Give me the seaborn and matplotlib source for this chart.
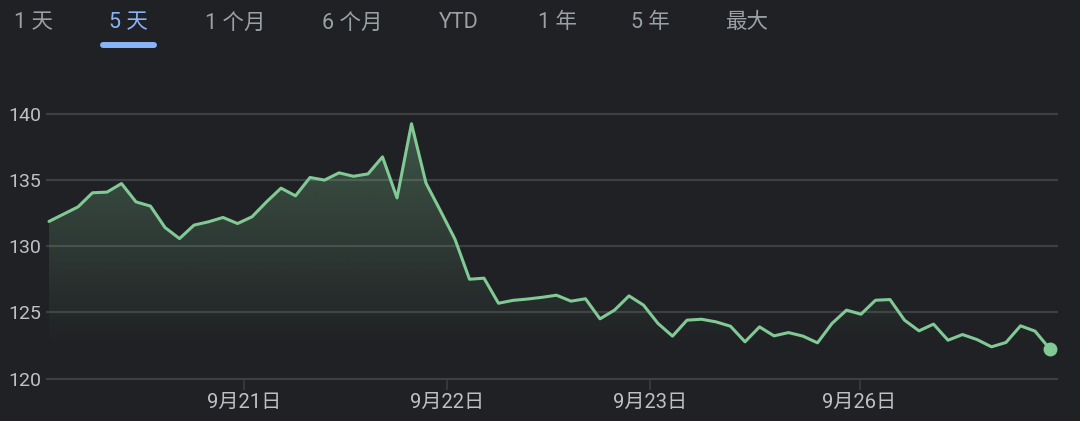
import numpy as np
import pandas as pd
import matplotlib
matplotlib.use("Agg")
import matplotlib.pyplot as plt
import seaborn as sns
from matplotlib.lines import Line2D

# tabs on top of the chart
tabs = ["1 天", "5 天", "1 个月", "6 个月", "YTD", "1 年", "5 年", "最大"]
tab_x = [34, 128, 235, 352, 459, 557, 650, 747]
active_tab = "5 天"

# 5 day price series
prices = [131.9, 132.45, 133.0, 134.07, 134.12, 134.77, 133.38, 133.06, 131.44, 130.6,
          131.62, 131.87, 132.2, 131.74, 132.25, 133.38, 134.42, 133.84, 135.23, 135.03,
          135.58, 135.32, 135.5, 136.79, 133.68, 139.3, 134.8, 132.7, 130.55, 127.52,
          127.6, 125.7, 125.92, 126.02, 126.15, 126.31, 125.86, 126.04, 124.52, 125.18,
          126.26, 125.56, 124.17, 123.21, 124.42, 124.49, 124.29, 123.96, 122.78, 123.91,
          123.23, 123.48, 123.21, 122.7, 124.17, 125.18, 124.87, 125.93, 125.98, 124.42,
          123.61, 124.12, 122.9, 123.33, 122.95, 122.4, 122.73, 123.99, 123.59, 122.27]
day_ticks = [13.43, 27.45, 41.46, 55.9]
day_labels = ["9月21日", "9月22日", "9月23日", "9月26日"]
y_ticks = [120, 125, 130, 135, 140]

df = pd.DataFrame({"step": np.arange(len(prices)), "price": prices})

BG = "#202124"
GREEN = "#81c995"
GRID = "#3c4043"
TXT = "#bdc1c6"

sns.set_theme(style="dark", rc={"figure.facecolor": BG, "axes.facecolor": BG})
plt.rcParams["font.family"] = ["Roboto", "Noto Sans CJK SC", "DejaVu Sans"]

W, H = 1080, 421
fig = plt.figure(figsize=(W / 100, H / 100), dpi=100)
# axes box in pixels: x 45.5..1058, y 100..380 (from top)
ax = fig.add_axes([45.5 / W, (H - 380) / H, (1058 - 45.5) / W, 280 / H])
ax.set_facecolor(BG)

sns.lineplot(data=df, x="step", y="price", ax=ax, color=GREEN, linewidth=2.2, zorder=3)
ax.plot(df["step"].iloc[-1], df["price"].iloc[-1], "o", color=GREEN, markersize=9, zorder=4)

# gradient area under the line
ymin_fill = 120
poly = ax.fill_between(df["step"], df["price"], ymin_fill, color="none", linewidth=0)
top = df["price"].max()
low = df["price"].min()
vals = np.linspace(ymin_fill, top, 300)
grad = np.zeros((300, 1, 4))
grad[:, 0, :3] = matplotlib.colors.to_rgb(GREEN)
grad[:, 0, 3] = np.clip((vals - low) / (top - low), 0, 1) * 0.32
img = ax.imshow(grad, extent=[df["step"].iloc[0], df["step"].iloc[-1], ymin_fill, top],
                origin="lower", aspect="auto", zorder=2)
img.set_clip_path(poly.get_paths()[0], transform=ax.transData)

# ylim so that 120 sits at y=378.5 px and 140 at 114.5 px
ppu = (378.5 - 114.5) / 20
ax.set_ylim(120 - 1.5 / ppu, 140 + 14.5 / ppu)
ax.set_xlim(-3.5 / 14.5, 69 + 8.5 / 14.5)

ax.set_yticks(y_ticks)
ax.set_yticklabels([str(v) for v in y_ticks])
ax.set_xticks(day_ticks)
ax.set_xticklabels(day_labels)
ax.grid(axis="y", color=GRID, linewidth=1.6)
ax.grid(axis="x", visible=False)
ax.tick_params(axis="y", length=0, pad=3, labelsize=14, labelcolor=TXT)
ax.tick_params(axis="x", length=7.5, width=1.1, color=GRID, pad=2, labelsize=14.5, labelcolor=TXT,
               direction="out", bottom=True)
ax.set_xlabel("")
ax.set_ylabel("")
for s in ax.spines.values():
    s.set_visible(False)

# tab bar
for name, x in zip(tabs, tab_x):
    col = "#8ab4f8" if name == active_tab else "#9aa0a6"
    fig.text(x / W, 1 - 23 / H, name, ha="center", va="center", fontsize=15.5, color=col)
fig.add_artist(Line2D([102.5 / W, 153.5 / W], [1 - 45 / H, 1 - 45 / H], color="#8ab4f8",
                      linewidth=4.3, solid_capstyle="round", transform=fig.transFigure))

fig.savefig("out.png", dpi=100, facecolor=BG)
